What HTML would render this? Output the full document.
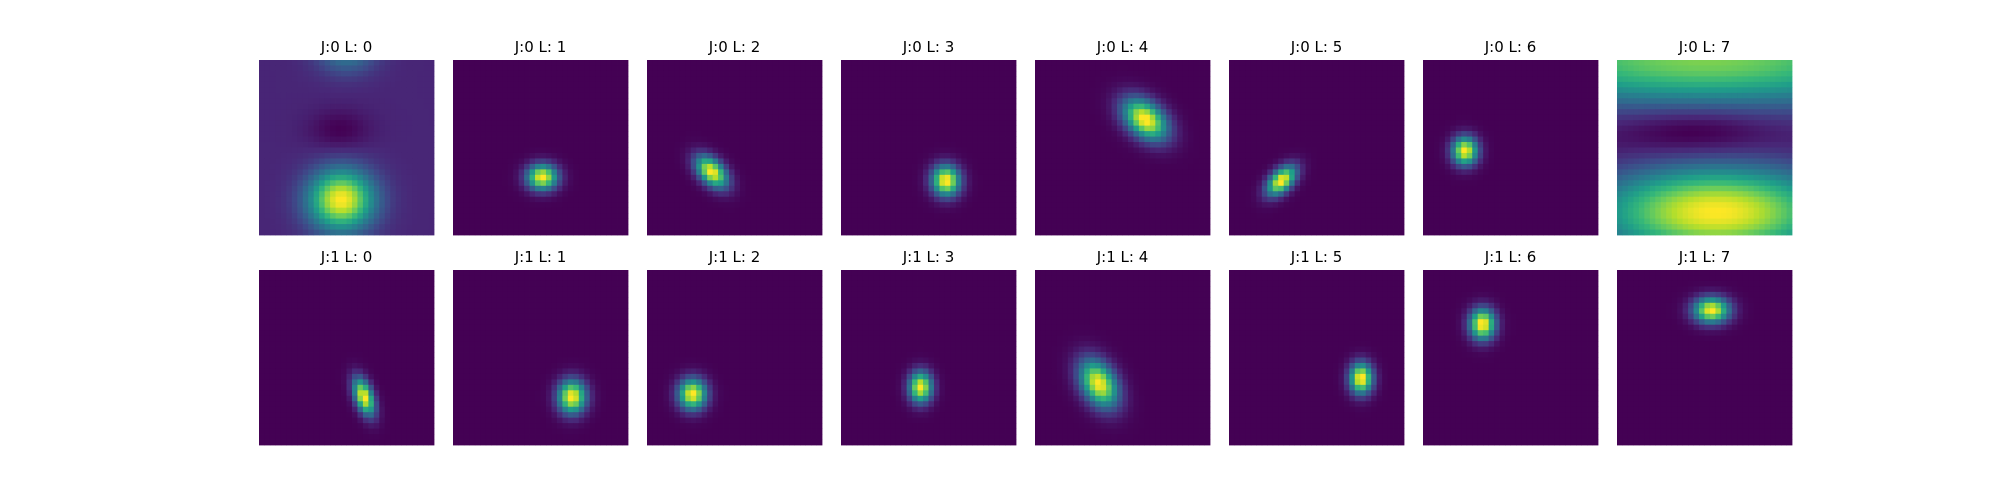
<!DOCTYPE html>
<html><head><meta charset="utf-8">
<style>
body{margin:0;background:#fff;}
svg{display:block;}
text{font-family:"DejaVu Sans","Liberation Sans",sans-serif;font-size:15px;fill:#000;}
</style></head>
<body>
<svg id="fig" width="2000" height="500" xmlns="http://www.w3.org/2000/svg"></svg>
<script>
// Panel titles
const rowLabels = ["J:0","J:1"];
const colLabels = ["L: 0","L: 1","L: 2","L: 3","L: 4","L: 5","L: 6","L: 7"];
// Gaussian components per panel: [amp, cx, cy, sMajor, sMinor, angleDeg]
const compsRow0 = [
  [[1,0.47,0.80,0.13,0.12,0],[0.35,0.5,-0.05,0.12,0.09,0],[-0.12,0.46,0.40,0.12,0.08,0],[0.14,0.5,0.5,5,5,0]],
  [[1,0.51,0.67,0.06,0.05,0]],
  [[1,0.37,0.64,0.075,0.045,45]],
  [[1,0.60,0.69,0.06,0.055,80]],
  [[1,0.63,0.34,0.10,0.065,40]],
  [[1,0.30,0.69,0.07,0.04,-45]],
  [[1,0.24,0.52,0.055,0.05,90]],
  [[1,0.57,0.87,0.5,0.19,0],[0.8,0.5,0.0,1.0,0.2,0],[-0.15,0.45,0.40,0.3,0.1,0]]
];
const compsRow1 = [
  [[1,0.60,0.725,0.075,0.035,70]],
  [[1,0.68,0.725,0.065,0.055,90]],
  [[1,0.26,0.71,0.06,0.055,90]],
  [[1,0.455,0.67,0.06,0.045,90]],
  [[1,0.365,0.65,0.10,0.065,60]],
  [[1,0.755,0.62,0.06,0.045,90]],
  [[1,0.34,0.31,0.06,0.05,90]],
  [[1,0.54,0.23,0.07,0.05,0]]
];
const gridN = 32;

const viridis = [[68,1,84],[72,40,120],[62,74,137],[49,104,142],[38,130,142],[31,158,137],[53,183,121],[109,205,89],[180,222,44],[253,231,37]];
function cmap(t){
  t=Math.max(0,Math.min(1,t));const p=t*(viridis.length-1);const i=Math.min(viridis.length-2,Math.floor(p));const f=p-i;
  const a=viridis[i],b=viridis[i+1];
  return `rgb(${Math.round(a[0]+(b[0]-a[0])*f)},${Math.round(a[1]+(b[1]-a[1])*f)},${Math.round(a[2]+(b[2]-a[2])*f)})`;
}
function field(comps,x,y){
  let v=0;
  for(const c of comps){
    const [amp,cx,cy,sa,sb,ang]=c;const r=ang*Math.PI/180;
    const dx=x-cx,dy=y-cy;const u=dx*Math.cos(r)+dy*Math.sin(r),w=-dx*Math.sin(r)+dy*Math.cos(r);
    v+=amp*Math.exp(-(u*u/(2*sa*sa)+w*w/(2*sb*sb)));
  }
  return v;
}
const NS="http://www.w3.org/2000/svg";
const svg=document.getElementById('fig');
const x0=259,pitch=194,size=175,rowTops=[60,270];
function xScale(col){return x0+col*pitch;}
[compsRow0,compsRow1].forEach((row,ri)=>{
  row.forEach((comps,ci)=>{
    const g=document.createElementNS(NS,'g');
    
    
    const px=xScale(ci),py=rowTops[ri];
    const vals=[];let mn=Infinity,mx=-Infinity;
    for(let j=0;j<gridN;j++)for(let i=0;i<gridN;i++){const v=field(comps,(i+0.5)/gridN,(j+0.5)/gridN);vals.push(v);mn=Math.min(mn,v);mx=Math.max(mx,v);}
    const cs=size/gridN;
    for(let j=0;j<gridN;j++)for(let i=0;i<gridN;i++){
      const r=document.createElementNS(NS,'rect');
      r.setAttribute('x',(px+i*cs).toFixed(2));r.setAttribute('y',(py+j*cs).toFixed(2));
      r.setAttribute('width',(cs+0.4).toFixed(2));r.setAttribute('height',(cs+0.4).toFixed(2));
      r.setAttribute('fill',cmap((vals[j*gridN+i]-mn)/(mx-mn)));
      g.appendChild(r);
    }
    svg.appendChild(g);
    const t=document.createElementNS(NS,'text');
    
    
    t.setAttribute('x',px+size/2);t.setAttribute('y',py-8);t.setAttribute('text-anchor','middle');
    t.textContent=rowLabels[ri]+' '+colLabels[ci];
    svg.appendChild(t);
  });
});
</script>
</body></html>
